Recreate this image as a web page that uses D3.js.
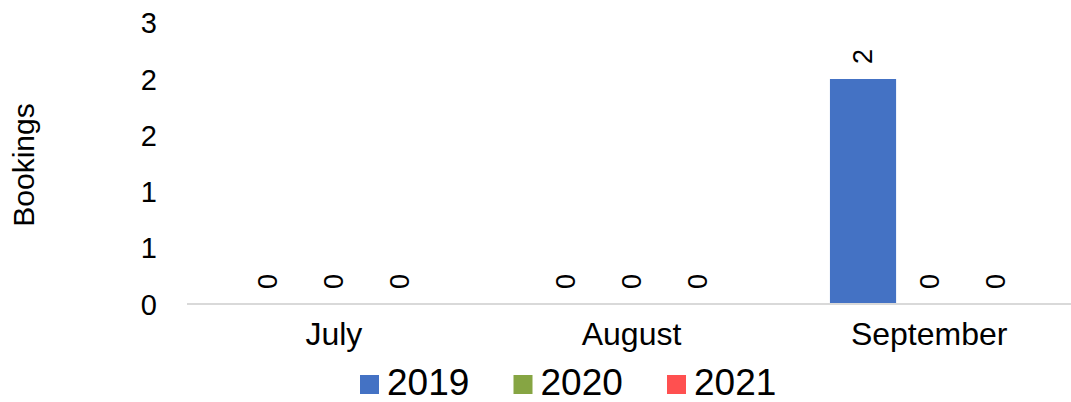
<!DOCTYPE html>
<html>
<head>
<meta charset="utf-8">
<script src="https://cdn.jsdelivr.net/npm/d3@7/dist/d3.min.js"></script>
<style>
  html, body { margin: 0; padding: 0; background: #fff; }
  svg { display: block; font-family: Arial, "Liberation Sans", sans-serif; }
</style>
</head>
<body>
<svg id="chart" width="1071" height="402"></svg>
<script>
// Monthly bookings per year
const months = ["July", "August", "September"];
const years = ["2019", "2020", "2021"];
const bookings2019 = [0, 0, 2];
const bookings2020 = [0, 0, 0];
const bookings2021 = [0, 0, 0];
const yearColors = ["#4472C4", "#86A543", "#FF5050"];
const yTickValues = [0, 0.5, 1, 1.5, 2, 2.5];
const yTickLabels = ["0", "1", "1", "2", "2", "3"];

const seriesValues = [bookings2019, bookings2020, bookings2021];
const rows = months.map((m, i) => ({
  month: m,
  values: years.map((y, j) => ({ year: y, value: seriesValues[j][i], color: yearColors[j] }))
}));

const svg = d3.select("#chart");

const x0 = d3.scaleBand().domain(months).range([185, 1078])
  .paddingInner(1 / 3).paddingOuter(1 / 6);
const x1 = d3.scaleBand().domain(years).range([0, x0.bandwidth()]).padding(0);
const y = d3.scaleLinear().domain([0, 2.5]).range([304, 22.75]);

// Y axis labels (no axis line, no ticks)
const yAxis = d3.axisLeft(y)
  .tickValues(yTickValues)
  .tickFormat((d, i) => yTickLabels[i])
  .tickSize(0)
  .tickPadding(0);
const gy = svg.append("g").attr("transform", "translate(157,0)").call(yAxis);
gy.select(".domain").remove();
gy.selectAll("text")
  .attr("font-size", 29)
  .attr("font-family", "Arial, 'Liberation Sans', sans-serif")
  .attr("fill", "#000")
  .attr("dy", "0.35em");

// Axis title
svg.append("text")
  .attr("transform", "translate(34,165) rotate(-90)")
  .attr("text-anchor", "middle")
  .attr("font-size", 30)
  .attr("fill", "#000")
  .text("Bookings");

// Bars
const groups = svg.append("g").selectAll("g")
  .data(rows).join("g")
  .attr("transform", d => `translate(${x0(d.month)},0)`);

groups.selectAll("rect")
  .data(d => d.values).join("rect")
  .attr("x", d => x1(d.year))
  .attr("y", d => y(d.value))
  .attr("width", x1.bandwidth())
  .attr("height", d => y(0) - y(d.value))
  .attr("fill", d => d.color);

// Value labels, rotated
groups.selectAll("text.val")
  .data(d => d.values).join("text")
  .attr("class", "val")
  .attr("transform", d => `translate(${x1(d.year) + x1.bandwidth() / 2},${y(d.value) - 15}) rotate(-90)`)
  .attr("text-anchor", "start")
  .attr("dy", "0.35em")
  .attr("font-size", 27)
  .attr("fill", "#000")
  .text(d => d.value);

// Category axis
const xAxis = d3.axisBottom(x0).tickSize(0).tickPadding(0);
const gx = svg.append("g").attr("transform", "translate(0,304)").call(xAxis);
gx.select(".domain")
  .attr("stroke", "#d9d9d9")
  .attr("stroke-width", 2)
  .attr("d", `M187,0H1080`);
gx.selectAll("text")
  .attr("font-size", 32)
  .attr("font-family", "Arial, 'Liberation Sans', sans-serif")
  .attr("fill", "#000")
  .attr("y", 41)
  .attr("dy", 0);

// Legend
const legend = svg.append("g").selectAll("g")
  .data(years).join("g")
  .attr("transform", (d, i) => `translate(${360 + i * 153.5},0)`);
legend.append("rect")
  .attr("x", 0).attr("y", 375).attr("width", 19).attr("height", 19)
  .attr("fill", (d, i) => yearColors[i]);
legend.append("text")
  .attr("x", 27).attr("y", 395)
  .attr("font-size", 37)
  .attr("fill", "#000")
  .text(d => d);
</script>
</body>
</html>
